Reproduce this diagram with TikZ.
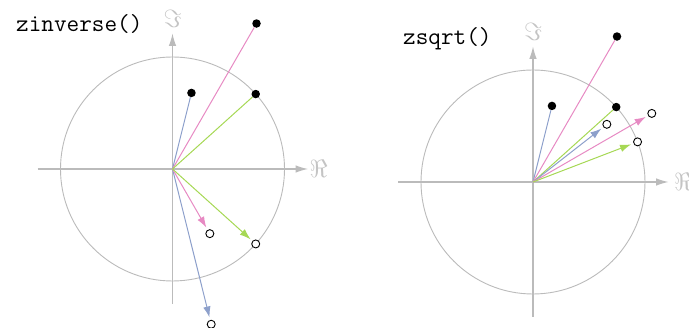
\documentclass[tikz,border=0pt]{standalone}
\usetikzlibrary{arrows.meta}
\definecolor{pk}{HTML}{E78AC3}
\definecolor{gn}{HTML}{A6D854}
\definecolor{bl}{HTML}{8DA0CB}
\definecolor{ax}{HTML}{BBBBBB}
\definecolor{lb}{HTML}{C4C4C4}
\tikzset{
  axisline/.style={draw=ax, line width=1.1pt},
  axisarrow/.style={axisline, -{Latex[length=12.5pt,width=7.5pt]}},
  unitcircle/.style={draw=ax, line width=0.9pt},
  vec/.style={line width=1pt},
  vecarrow/.style={vec, -{Latex[length=11pt,width=7.5pt]}, shorten >=2.5pt},
  fulldot/.style={circle, fill=black, inner sep=0pt, minimum size=8.5pt},
  opendot/.style={circle, draw=black, fill=white, line width=0.9pt, inner sep=0pt, minimum size=8pt},
  axislabel/.style={text=lb, inner sep=0pt, font=\fontsize{26}{28}\selectfont},
  title/.style={inner sep=0pt, anchor=base west, font=\ttfamily\fontsize{24.5}{27}\selectfont}
}
\begin{document}
\begin{tikzpicture}[x=1pt,y=1pt]
\useasboundingbox (0,0) rectangle (689pt,-328pt);
% ---------- left panel: zinverse ----------
\node[title] (t1) at (16pt,-32pt) {zinverse()};
\begin{scope}[shift={(172.5pt,-169pt)}, x=112pt, y=112pt]
  \coordinate (O1) at (0,0);
  \coordinate (L1) at (-1.205,0);
  \coordinate (R1) at (1.21,0);
  \coordinate (B1) at (0,-1.205);
  \coordinate (T1) at (0,1.21);
  \draw[unitcircle] (O1) circle[radius=1];
  \draw[axisline] (L1) -- (O1);
  \draw[axisarrow] (O1) -- (R1);
  \draw[axisline] (B1) -- (O1);
  \draw[axisarrow] (O1) -- (T1);
  \node[axislabel] (re1) at (1.305,0) {$\Re$};
  \node[axislabel] (im1) at (0,1.34) {$\Im$};
  % inputs
  \node[fulldot] (b1) at (76:0.7) {};
  \node[fulldot] (p1) at (60:1.5) {};
  \node[fulldot] (g1) at (42:1) {};
  % outputs
  \node[opendot] (bo1) at (-76:1.428571) {};
  \node[opendot] (po1) at (-60:0.666667) {};
  \node[opendot] (go1) at (-42:1) {};
  \draw[vec, bl] (O1) -- (b1);
  \draw[vec, pk] (O1) -- (p1);
  \draw[vec, gn] (O1) -- (g1);
  \draw[vecarrow, bl] (O1) -- (bo1);
  \draw[vecarrow, pk] (O1) -- (po1);
  \draw[vecarrow, gn] (O1) -- (go1);
\end{scope}
% ---------- right panel: zsqrt ----------
\node[title] (t2) at (403pt,-45pt) {zsqrt()};
\begin{scope}[shift={(533pt,-182pt)}, x=112pt, y=112pt]
  \coordinate (O2) at (0,0);
  \coordinate (L2) at (-1.205,0);
  \coordinate (R2) at (1.21,0);
  \coordinate (B2) at (0,-1.205);
  \coordinate (T2) at (0,1.21);
  \draw[unitcircle] (O2) circle[radius=1];
  \draw[axisline] (L2) -- (O2);
  \draw[axisarrow] (O2) -- (R2);
  \draw[axisline] (B2) -- (O2);
  \draw[axisarrow] (O2) -- (T2);
  \node[axislabel] (re2) at (1.34,0) {$\Re$};
  \node[axislabel] (im2) at (0,1.34) {$\Im$};
  % inputs
  \node[fulldot] (b2) at (76:0.7) {};
  \node[fulldot] (p2) at (60:1.5) {};
  \node[fulldot] (g2) at (42:1) {};
  % outputs
  \node[opendot] (bo2) at (38:0.836660) {};
  \node[opendot] (po2) at (30:1.224745) {};
  \node[opendot] (go2) at (21:1) {};
  \draw[vec, bl] (O2) -- (b2);
  \draw[vec, pk] (O2) -- (p2);
  \draw[vec, gn] (O2) -- (g2);
  \draw[vecarrow, bl] (O2) -- (bo2);
  \draw[vecarrow, pk] (O2) -- (po2);
  \draw[vecarrow, gn] (O2) -- (go2);
\end{scope}
\end{tikzpicture}
\end{document}
